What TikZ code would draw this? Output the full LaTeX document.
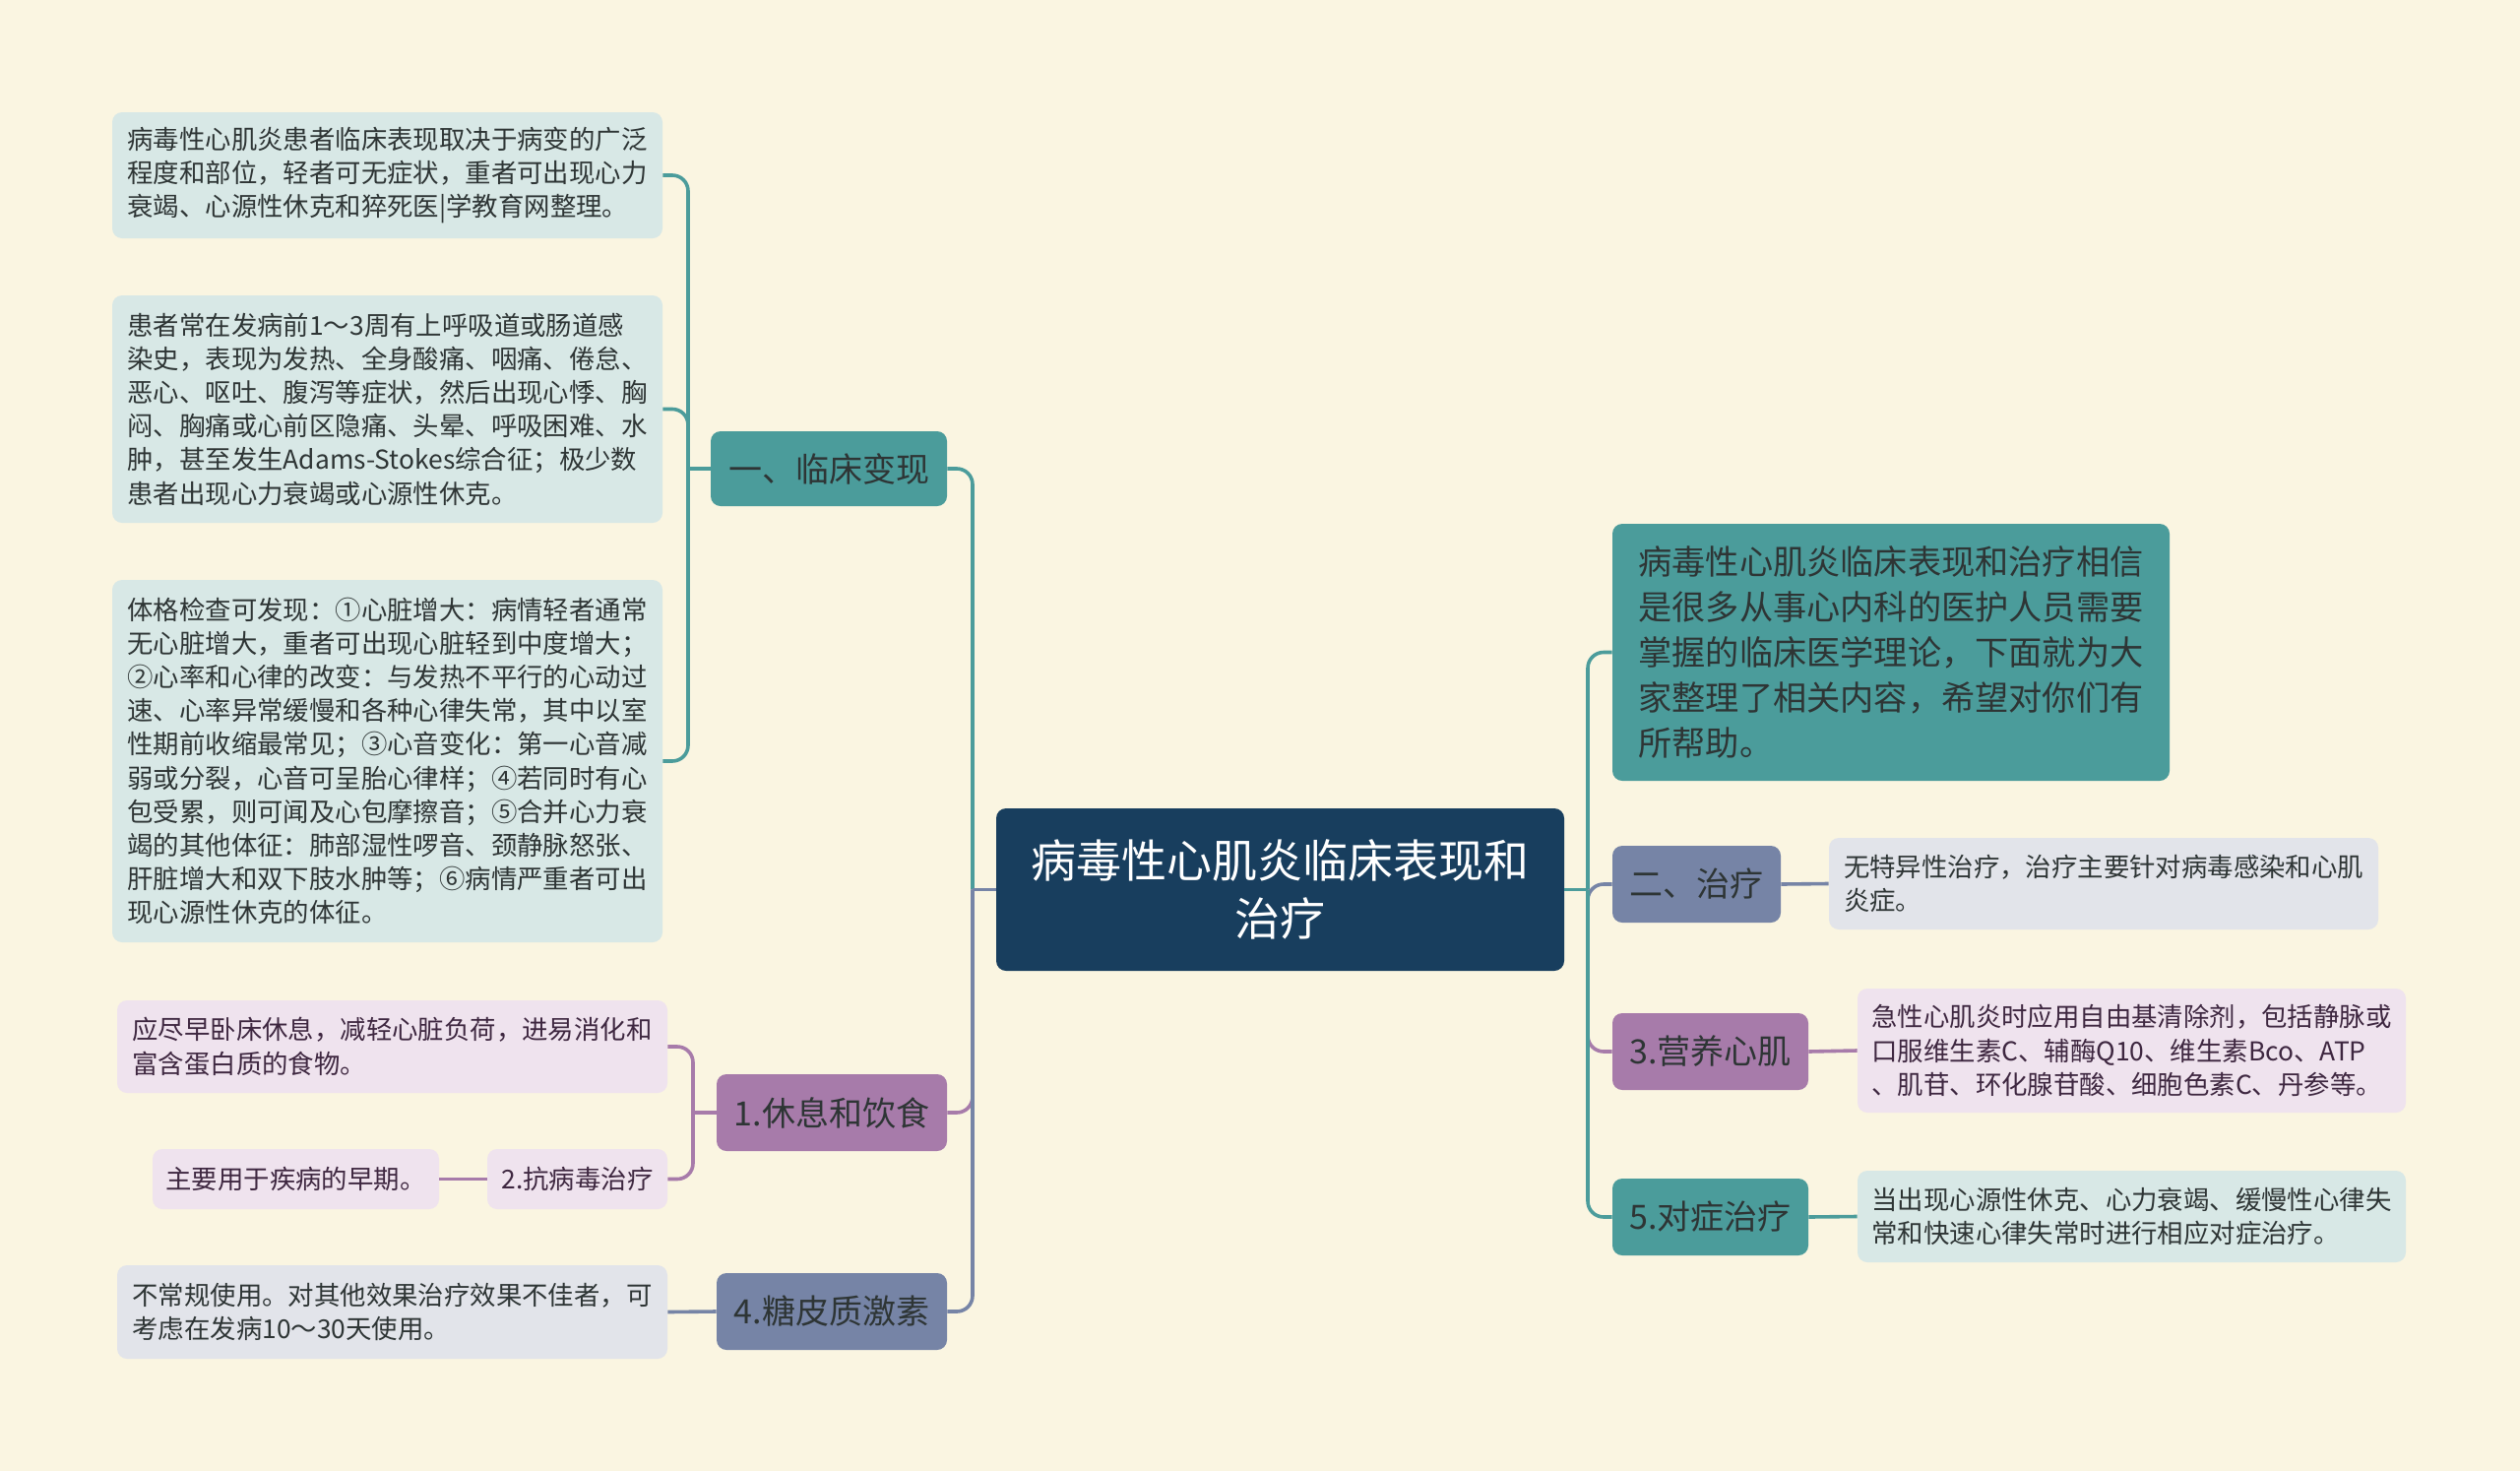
\documentclass[tikz,border=0pt]{standalone}
\usepackage{fontspec}
\setmainfont{Noto Sans CJK SC}
\definecolor{bg}{HTML}{FAF5E1}
\definecolor{navy}{HTML}{183E5E}
\definecolor{teal1}{HTML}{4B9C9B}
\definecolor{purp1}{HTML}{A77BAA}
\definecolor{slate1}{HTML}{7684A6}
\definecolor{lteal}{HTML}{D8E8E6}
\definecolor{lpurp}{HTML}{EFE3EE}
\definecolor{lslate}{HTML}{E2E4EA}
\definecolor{txt}{HTML}{2E3535}
\definecolor{ptxt}{HTML}{3E2740}
\tikzset{
  box/.style={rounded corners=5pt, inner sep=0pt, align=left},
  leafT/.style={box, fill=lteal, text=txt, font=\fontsize{13.2}{17.1}\selectfont},
  leafP/.style={box, fill=lpurp, text=ptxt, font=\fontsize{13.2}{17.1}\selectfont},
  leafS/.style={box, fill=lslate, text=txt, font=\fontsize{13.2}{17.1}\selectfont},
  brT/.style={box, align=center, fill=teal1, text=txt, font=\fontsize{17}{20}\selectfont},
  brP/.style={box, align=center, fill=purp1, text=txt, font=\fontsize{17}{20}\selectfont},
  brS/.style={box, align=center, fill=slate1, text=txt, font=\fontsize{17}{20}\selectfont},
  cT/.style={draw=teal1, line width=1.8pt, rounded corners=8pt},
  cP/.style={draw=purp1, line width=1.8pt, rounded corners=8pt},
  cS/.style={draw=slate1, line width=1.8pt, rounded corners=8pt},
}
\begin{document}
\begin{tikzpicture}[x=0.5pt,y=-0.5pt]
\fill[bg] (0,0) rectangle (2560,1494);
\useasboundingbox (0,0) rectangle (2560,1494);

% root
\node[box, align=center, fill=navy, text=white, font=\fontsize{23}{29.5}\selectfont,
  minimum width=288.5pt, minimum height=82.5pt] (root) at (1300.5,903.5)
  {病毒性心肌炎临床表现和\\治疗};

% left branches
\node[brT, minimum width=120pt, minimum height=38pt] (B1) at (842,476) {一、临床变现};
\node[brP, minimum width=117pt, minimum height=39pt] (B2) at (845,1130) {1.休息和饮食};
\node[brS, minimum width=117pt, minimum height=39pt] (B4) at (845,1332) {4.糖皮质激素};
\node[leafP, align=center, minimum width=91.5pt, minimum height=30.5pt] (B2a) at (586.5,1197.5) {2.抗病毒治疗};

% left leaves
\node[leafT, minimum width=279.5pt, minimum height=64pt] (L1) at (393.5,178)
{病毒性心肌炎患者临床表现取决于病变的广泛\\
程度和部位，轻者可无症状，重者可出现心力\\
衰竭、心源性休克和猝死医|学教育网整理。};
\node[leafT, minimum width=279.5pt, minimum height=115.5pt] (L2) at (393.5,415.5)
{患者常在发病前1～3周有上呼吸道或肠道感\\
染史，表现为发热、全身酸痛、咽痛、倦怠、\\
恶心、呕吐、腹泻等症状，然后出现心悸、胸\\
闷、胸痛或心前区隐痛、头晕、呼吸困难、水\\
肿，甚至发生Adams-Stokes综合征；极少数\\
患者出现心力衰竭或心源性休克。};
\node[leafT, minimum width=279.5pt, minimum height=184pt] (L3) at (393.5,773)
{体格检查可发现：①心脏增大：病情轻者通常\\
无心脏增大，重者可出现心脏轻到中度增大；\\
②心率和心律的改变：与发热不平行的心动过\\
速、心率异常缓慢和各种心律失常，其中以室\\
性期前收缩最常见；③心音变化：第一心音减\\
弱或分裂，心音可呈胎心律样；④若同时有心\\
包受累，则可闻及心包摩擦音；⑤合并心力衰\\
竭的其他体征：肺部湿性啰音、颈静脉怒张、\\
肝脏增大和双下肢水肿等；⑥病情严重者可出\\
现心源性休克的体征。};
\node[leafP, minimum width=279.5pt, minimum height=47pt] (L4) at (398.5,1063)
{应尽早卧床休息，减轻心脏负荷，进易消化和\\
富含蛋白质的食物。};
\node[leafP, minimum width=145.5pt, minimum height=30.5pt] (L5) at (300.5,1197.5)
{主要用于疾病的早期。};
\node[leafS, minimum width=279.5pt, minimum height=47.5pt] (L6) at (398.5,1332.5)
{不常规使用。对其他效果治疗效果不佳者，可\\
考虑在发病10～30天使用。};

% right side
\node[box, fill=teal1, text=txt, font=\fontsize{17.1}{22.9}\selectfont,
  minimum width=283pt, minimum height=130.5pt] (I) at (1921,662.5)
{病毒性心肌炎临床表现和治疗相信\\
是很多从事心内科的医护人员需要\\
掌握的临床医学理论，下面就为大\\
家整理了相关内容，希望对你们有\\
所帮助。};
\node[brS, minimum width=85.5pt, minimum height=39pt] (R2b) at (1723.5,898) {二、治疗};
\node[brP, minimum width=99.5pt, minimum height=39pt] (R3b) at (1737.5,1068) {3.营养心肌};
\node[brT, minimum width=99.5pt, minimum height=39pt] (R5b) at (1737.5,1236) {5.对症治疗};

\node[leafS, minimum width=279pt, minimum height=46.5pt] (R1) at (2137,897.5)
{无特异性治疗，治疗主要针对病毒感染和心肌\\
炎症。};
\node[leafP, minimum width=278.5pt, minimum height=63pt] (R2) at (2165.5,1067)
{急性心肌炎时应用自由基清除剂，包括静脉或\\
口服维生素C、辅酶Q10、维生素Bco、ATP\\
、肌苷、环化腺苷酸、细胞色素C、丹参等。};
\node[leafT, minimum width=278.5pt, minimum height=46.5pt] (R3) at (2165.5,1235.5)
{当出现心源性休克、心力衰竭、缓慢性心律失\\
常和快速心律失常时进行相应对症治疗。};

% connectors left
\coordinate (LT) at (988,903.5);
\coordinate (RT) at (1613,903.5);
\coordinate (K1) at (699,476);
\coordinate (K2) at (704,1130);

\draw[cT] (LT) |- (B1.east);
\draw[cP] (LT) |- (B2.east);
\draw[cS] (LT) |- (B4.east);
\draw[cS] (root.west) -- (LT);

\draw[cT] (B1.west) -- (K1);
\draw[cT] (K1) |- (L1.east);
\draw[cT] (K1) |- (L2.east);
\draw[cT] (K1) |- (L3.east);

\draw[cP] (B2.west) -- (K2);
\draw[cP] (K2) |- (L4.east);
\draw[cP] (K2) |- (B2a.east);
\draw[cP] (B2a.west) -- (L5.east);

\draw[cS] (B4.west) -- (L6.east);

% connectors right
\draw[cT] (RT) |- (I.west);
\draw[cS] (RT) |- (R2b.west);
\draw[cP] (RT) |- (R3b.west);
\draw[cT] (RT) |- (R5b.west);
\draw[cT] (root.east) -- (RT);

\draw[cS] (R2b.east) -- (R1.west);
\draw[cP] (R3b.east) -- (R2.west);
\draw[cT] (R5b.east) -- (R3.west);
\end{tikzpicture}
\end{document}
